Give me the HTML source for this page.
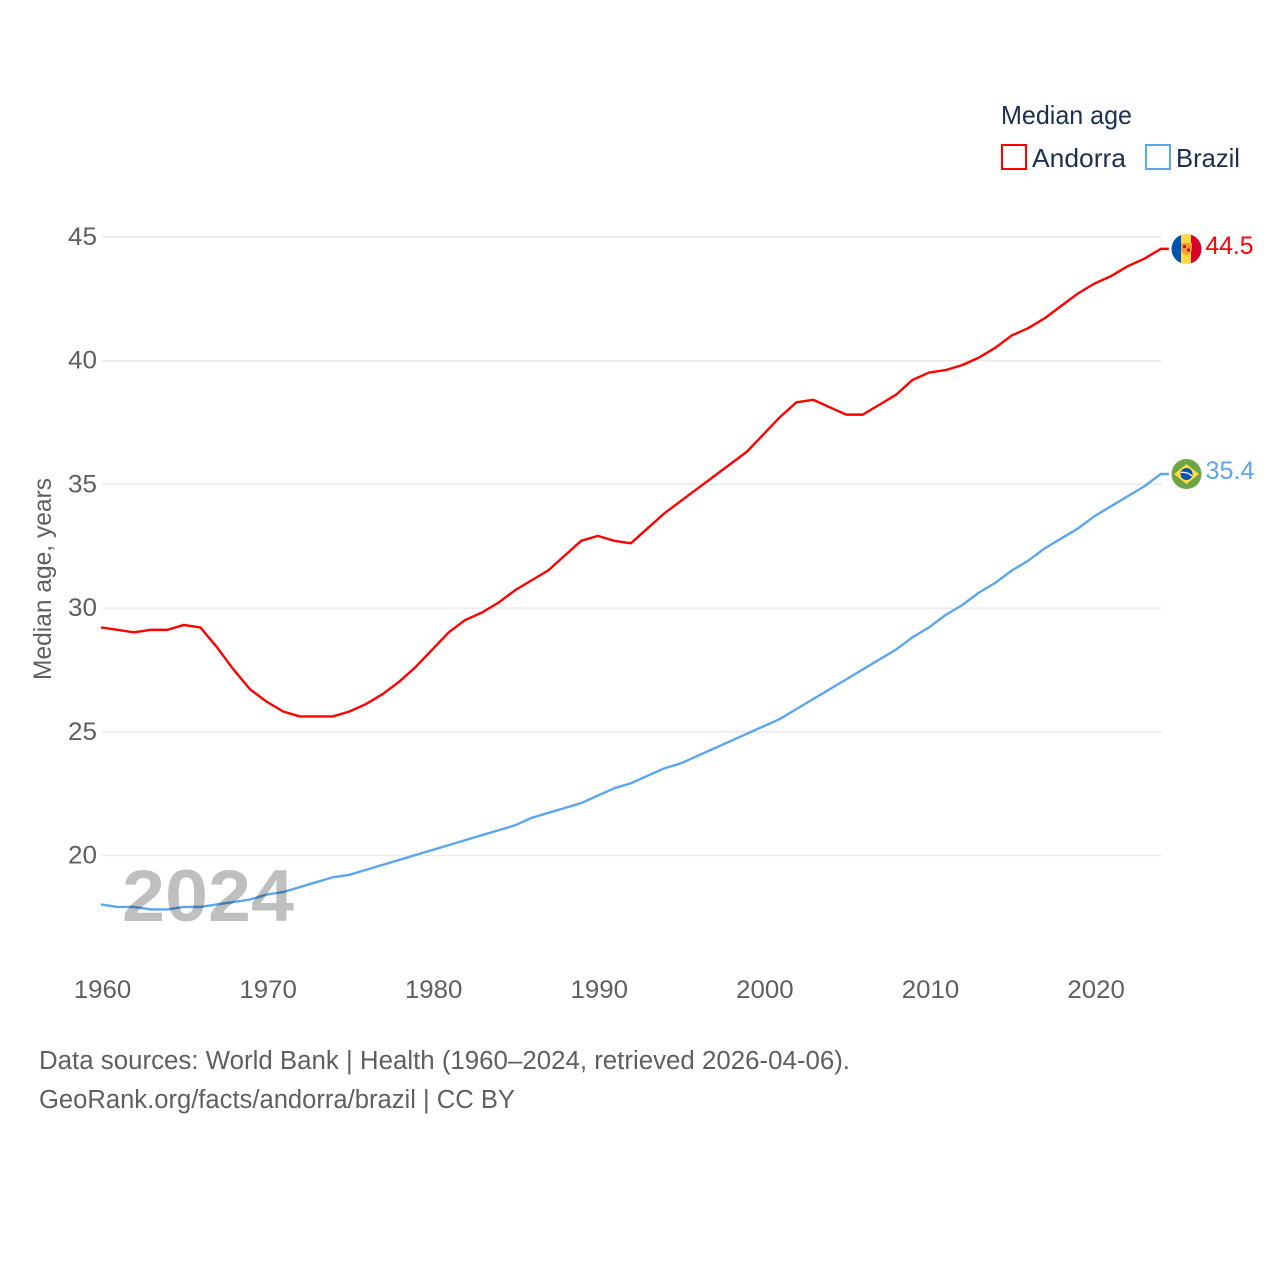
<!DOCTYPE html>
<html lang="en">
<head>
<meta charset="utf-8">
<title>Median age: Andorra and Brazil</title>
<style>
html,body{margin:0;padding:0;background:#fff;}
svg{display:block;font-family:"Liberation Sans",sans-serif;}
</style>
</head>
<body>
<svg id="chart" xmlns="http://www.w3.org/2000/svg" width="1280" height="1280" viewBox="0 0 1280 1280">
  <defs>
    <clipPath id="clip-ad"><circle cx="1186.5" cy="249" r="15"/></clipPath>
    <clipPath id="clip-br"><circle cx="1186.5" cy="474" r="15"/></clipPath>
  </defs>
  <rect width="1280" height="1280" fill="#fff"/>
  <g id="grid"></g>
  <g id="yticks"></g>
  <g id="xticks"></g>
  <text transform="translate(51,680) rotate(-90)" font-size="25" fill="#5f5f5f" textLength="202" lengthAdjust="spacingAndGlyphs">Median age, years</text>
  <g id="series"></g>
  <text x="122" y="921" font-size="73" font-weight="bold" fill="#000" fill-opacity="0.25" textLength="172" lengthAdjust="spacingAndGlyphs">2024</text>

  <g clip-path="url(#clip-ad)">
    <rect x="1171" y="233" width="10" height="32" fill="#0052b4"/>
    <rect x="1181" y="233" width="10" height="32" fill="#ffda44"/>
    <rect x="1191" y="233" width="11" height="32" fill="#d80027"/>
    <path d="M1181 243h11v6q0 4-5.500 6.500q-5.500-2.500-5.500-6.500z" fill="#f2a02c"/>
    <circle cx="1184.500" cy="246.500" r="1.600" fill="#d80027"/>
    <circle cx="1188.500" cy="250" r="1.600" fill="#d80027"/>
  </g>
  <g clip-path="url(#clip-br)">
    <rect x="1171" y="458" width="32" height="32" fill="#6da544"/>
    <path d="M1186.500 464L1199 474L1186.500 484L1174 474z" fill="#ffda44"/>
    <circle cx="1186.500" cy="474" r="6" fill="#0052b4"/>
    <path d="M1181 472.500q6-1 11 3.500" fill="none" stroke="#f0f0f0" stroke-width="1.300"/>
  </g>
  <text x="1205.500" y="254" font-size="25" fill="#ff0000" textLength="48" lengthAdjust="spacingAndGlyphs">44.5</text>
  <text x="1205.500" y="479" font-size="25" fill="#5ca6ee" textLength="49" lengthAdjust="spacingAndGlyphs">35.4</text>

  <g>
    <text x="1001" y="124" font-size="26" fill="#1a3050" textLength="131" lengthAdjust="spacingAndGlyphs">Median age</text>
    <rect x="1002" y="145" width="24" height="24" fill="#fff" stroke="#ff0000" stroke-width="2"/>
    <text x="1032" y="167" font-size="26" fill="#1a3050" textLength="94" lengthAdjust="spacingAndGlyphs">Andorra</text>
    <rect x="1146" y="145" width="24" height="24" fill="#fff" stroke="#5ca6ee" stroke-width="2"/>
    <text x="1176" y="167" font-size="26" fill="#1a3050" textLength="64" lengthAdjust="spacingAndGlyphs">Brazil</text>
  </g>

  <text x="39" y="1069" font-size="25.500" fill="#5f5f5f" textLength="811" lengthAdjust="spacingAndGlyphs">Data sources: World Bank | Health (1960–2024, retrieved 2026-04-06).</text>
  <text x="39" y="1108" font-size="25.500" fill="#5f5f5f" textLength="476" lengthAdjust="spacingAndGlyphs">GeoRank.org/facts/andorra/brazil | CC BY</text>
</svg>
<script>
var startYear = 1960;
var yTickValues = [20, 25, 30, 35, 40, 45];
var xTickValues = [1960, 1970, 1980, 1990, 2000, 2010, 2020];
var andorraValues = [29.2,29.1,29.0,29.1,29.1,29.3,29.2,28.4,27.5,26.7,26.2,25.8,25.6,25.6,25.6,25.8,26.1,26.5,27.0,27.6,28.3,29.0,29.5,29.8,30.2,30.7,31.1,31.5,32.1,32.7,32.9,32.7,32.6,33.2,33.8,34.3,34.8,35.3,35.8,36.3,37.0,37.7,38.3,38.4,38.1,37.8,37.8,38.2,38.6,39.2,39.5,39.6,39.8,40.1,40.5,41.0,41.3,41.7,42.2,42.7,43.1,43.4,43.8,44.1,44.5];
var brazilValues = [18.0,17.9,17.9,17.8,17.8,17.9,17.9,18.0,18.1,18.2,18.4,18.5,18.7,18.9,19.1,19.2,19.4,19.6,19.8,20.0,20.2,20.4,20.6,20.8,21.0,21.2,21.5,21.7,21.9,22.1,22.4,22.7,22.9,23.2,23.5,23.7,24.0,24.3,24.6,24.9,25.2,25.5,25.9,26.3,26.7,27.1,27.5,27.9,28.3,28.8,29.2,29.7,30.1,30.6,31.0,31.5,31.9,32.4,32.8,33.2,33.7,34.1,34.5,34.9,35.4];

var NS = 'http://www.w3.org/2000/svg';
function xScale(year) { return 101 + (year - 1960) * 16.56; }
function yScale(v) { return 855.5 - (v - 20) * 24.74; }
function make(tag, attrs, parent) {
  var el = document.createElementNS(NS, tag);
  for (var k in attrs) { el.setAttribute(k, attrs[k]); }
  parent.appendChild(el);
  return el;
}
var grid = document.getElementById('grid');
var yticks = document.getElementById('yticks');
var xticks = document.getElementById('xticks');
var series = document.getElementById('series');

yTickValues.forEach(function (v) {
  var line = make('line', {x1: 102, x2: 1161.5, y1: yScale(v), y2: yScale(v), stroke: '#e9e9e9', 'stroke-width': 1.5}, grid);
  
  
  var t = make('text', {x: 68, y: yScale(v) + 8, 'font-size': 25, fill: '#5f5f5f', textLength: 29, lengthAdjust: 'spacingAndGlyphs'}, yticks);
  
  
  t.textContent = v;
});
xTickValues.forEach(function (yr) {
  var t = make('text', {x: xScale(yr) + 1.5, y: 998, 'font-size': 25, fill: '#5f5f5f', 'text-anchor': 'middle', textLength: 57.5, lengthAdjust: 'spacingAndGlyphs'}, xticks);
  
  
  t.textContent = yr;
});
function drawSeries(values, color, name) {
  var pts = values.map(function (v, i) { return xScale(startYear + i).toFixed(2) + ',' + (yScale(v) - 0.5).toFixed(2); });
  var lastX = xScale(startYear + values.length - 1);
  var lastY = yScale(values[values.length - 1]) - 0.5;
  pts.push((lastX + 8).toFixed(2) + ',' + lastY.toFixed(2));
  var p = make('polyline', {points: pts.join(' '), fill: 'none', stroke: color, 'stroke-width': 2.4, 'stroke-linejoin': 'round'}, series);
  
  
}
drawSeries(andorraValues, '#ff0000', 'line-andorra');
drawSeries(brazilValues, '#5ca6ee', 'line-brazil');
</script>
</body>
</html>
